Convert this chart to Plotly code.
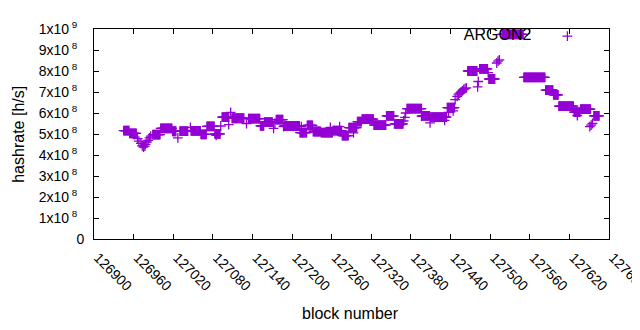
import numpy as np
import plotly.graph_objects as go

# ---- data (hashrate in units of 1e8 h/s) ----
# constant runs: first block, last block, value
run_start = [126945, 126954, 126989, 127001, 127019, 127030, 127047, 127062, 127071, 127083,
             127094, 127109, 127134, 127152, 127158, 127176, 127188, 127212, 127223, 127232,
             127244, 127262, 127276, 127286, 127299, 127306, 127324, 127343, 127355, 127374,
             127397, 127410, 127435, 127466, 127484, 127498, 127518, 127551, 127584, 127596,
             127604, 127627, 127637, 127657]
run_end = [126953, 126964, 127000, 127018, 127024, 127042, 127061, 127070, 127082, 127091,
           127104, 127127, 127151, 127157, 127170, 127186, 127211, 127222, 127231, 127243,
           127261, 127275, 127285, 127298, 127305, 127323, 127342, 127354, 127368, 127396,
           127408, 127434, 127446, 127480, 127496, 127507, 127550, 127583, 127595, 127603,
           127626, 127636, 127652, 127665]
run_value = [5.16, 5.03, 4.97, 5.27, 5.13, 5.14, 5.15, 4.98, 5.36, 5.01,
             5.80, 5.75, 5.73, 5.39, 5.57, 5.68, 5.38, 5.07, 5.41, 5.12,
             5.07, 5.16, 4.92, 5.30, 5.59, 5.71, 5.42, 5.86, 5.48, 6.21,
             5.86, 5.80, 6.26, 8.00, 8.10, 7.62, 9.74, 7.70, 7.09, 6.86,
             6.33, 6.04, 6.18, 5.86]

# single blocks outside the runs
pt_block = [126966, 126968, 126971, 126973, 126975, 126977, 126978, 126980, 126982, 126984,
            126986, 127027, 127046, 127085, 127092, 127104, 127107, 127131, 127172, 127174,
            127187, 127214, 127258, 127272, 127293, 127369, 127371, 127372, 127396, 127409,
            127431, 127437, 127444, 127447, 127450, 127452, 127454, 127456, 127458, 127460,
            127462, 127464, 127481, 127482, 127497, 127510, 127512, 127514, 127632, 127651,
            127653, 127655]
pt_value = [4.78, 4.66, 4.55, 4.44, 4.38, 4.42, 4.51, 4.62, 4.70, 4.82,
            4.90, 4.82, 5.32, 4.93, 5.38, 5.45, 6.03, 5.50, 5.27, 5.52,
            5.35, 5.35, 5.32, 5.35, 5.05, 5.62, 5.79, 6.00, 5.85, 5.53,
            5.65, 6.03, 6.10, 6.64, 6.79, 6.90, 6.95, 7.00, 7.05, 7.12,
            7.16, 7.20, 7.24, 7.50, 7.92, 8.38, 8.47, 8.53, 5.88, 5.35,
            5.42, 5.50]

x_ticks = [126900, 126960, 127020, 127080, 127140, 127200, 127260, 127320,
           127380, 127440, 127500, 127560, 127620, 127680]
y_ticks = [0, 1e8, 2e8, 3e8, 4e8, 5e8, 6e8, 7e8, 8e8, 9e8, 1e9]
y_tick_text = (["0"] + ["%dx10<sup>\u00a08</sup>\u2002" % k for k in range(1, 10)]
               + ["1x10<sup>\u00a09</sup>\u2002"])

# ---- assemble one point per block ----
blocks, values = [], []
for s, e, v in zip(run_start, run_end, run_value):
    for b in range(s, e + 1):
        blocks.append(b)
        values.append(v * 1e8)
for b, v in zip(pt_block, pt_value):
    blocks.append(b)
    values.append(v * 1e8)
order = np.argsort(blocks)
blocks = np.array(blocks)[order]
values = np.array(values)[order]

COLOR = "#9400D3"
FONT = "Liberation Sans, Arial, sans-serif"

fig = go.Figure()
fig.add_trace(go.Scatter(
    x=blocks, y=values, mode="markers", name="",
    marker=dict(symbol="cross-thin", size=7, color=COLOR,
                line=dict(color=COLOR, width=1.3)),
    showlegend=True,
))

axis_common = dict(showline=True, linecolor="black", linewidth=1, mirror="allticks",
                   ticks="inside", ticklen=5, tickwidth=1, tickcolor="black",
                   showgrid=False, zeroline=False, automargin=False,
                   tickfont=dict(family=FONT, size=14, color="black"))

# the page body adds an 8 px offset, so the figure is 632x322
fig.update_layout(
    width=632, height=322,
    margin=dict(l=85.5, r=31, t=11.3, b=90.7),
    paper_bgcolor="white", plot_bgcolor="white",
    font=dict(family=FONT, size=14, color="black"),
    xaxis=dict(range=[126900, 127680], tickvals=x_ticks,
               ticktext=[str(t) for t in x_ticks], tickangle=45,
               ticklabelstandoff=4, ticklabelshift=4,
               ticklabeloverflow="allow", **axis_common),
    yaxis=dict(range=[0, 1e9], tickvals=y_ticks, ticktext=y_tick_text,
               ticklabelstandoff=6, **axis_common),
    legend=dict(x=0.9686, y=1.047, xanchor="right", yanchor="top",
                bgcolor="rgba(0,0,0,0)",
                title=dict(text="ARGON2\u2002", side="left",
                           font=dict(family=FONT, size=16, color="black")),
                font=dict(family=FONT, size=16)),
    annotations=[
        dict(text="block number", xref="paper", yref="paper", x=0.499, y=-0.354,
             xanchor="center", yanchor="middle", showarrow=False,
             font=dict(family=FONT, size=16, color="black")),
        dict(text="hashrate [h/s]", xref="paper", yref="paper", x=-0.148, y=0.5,
             xanchor="center", yanchor="middle", showarrow=False, textangle=-90,
             font=dict(family=FONT, size=16, color="black")),
    ],
)

fig.write_html("out.html")
